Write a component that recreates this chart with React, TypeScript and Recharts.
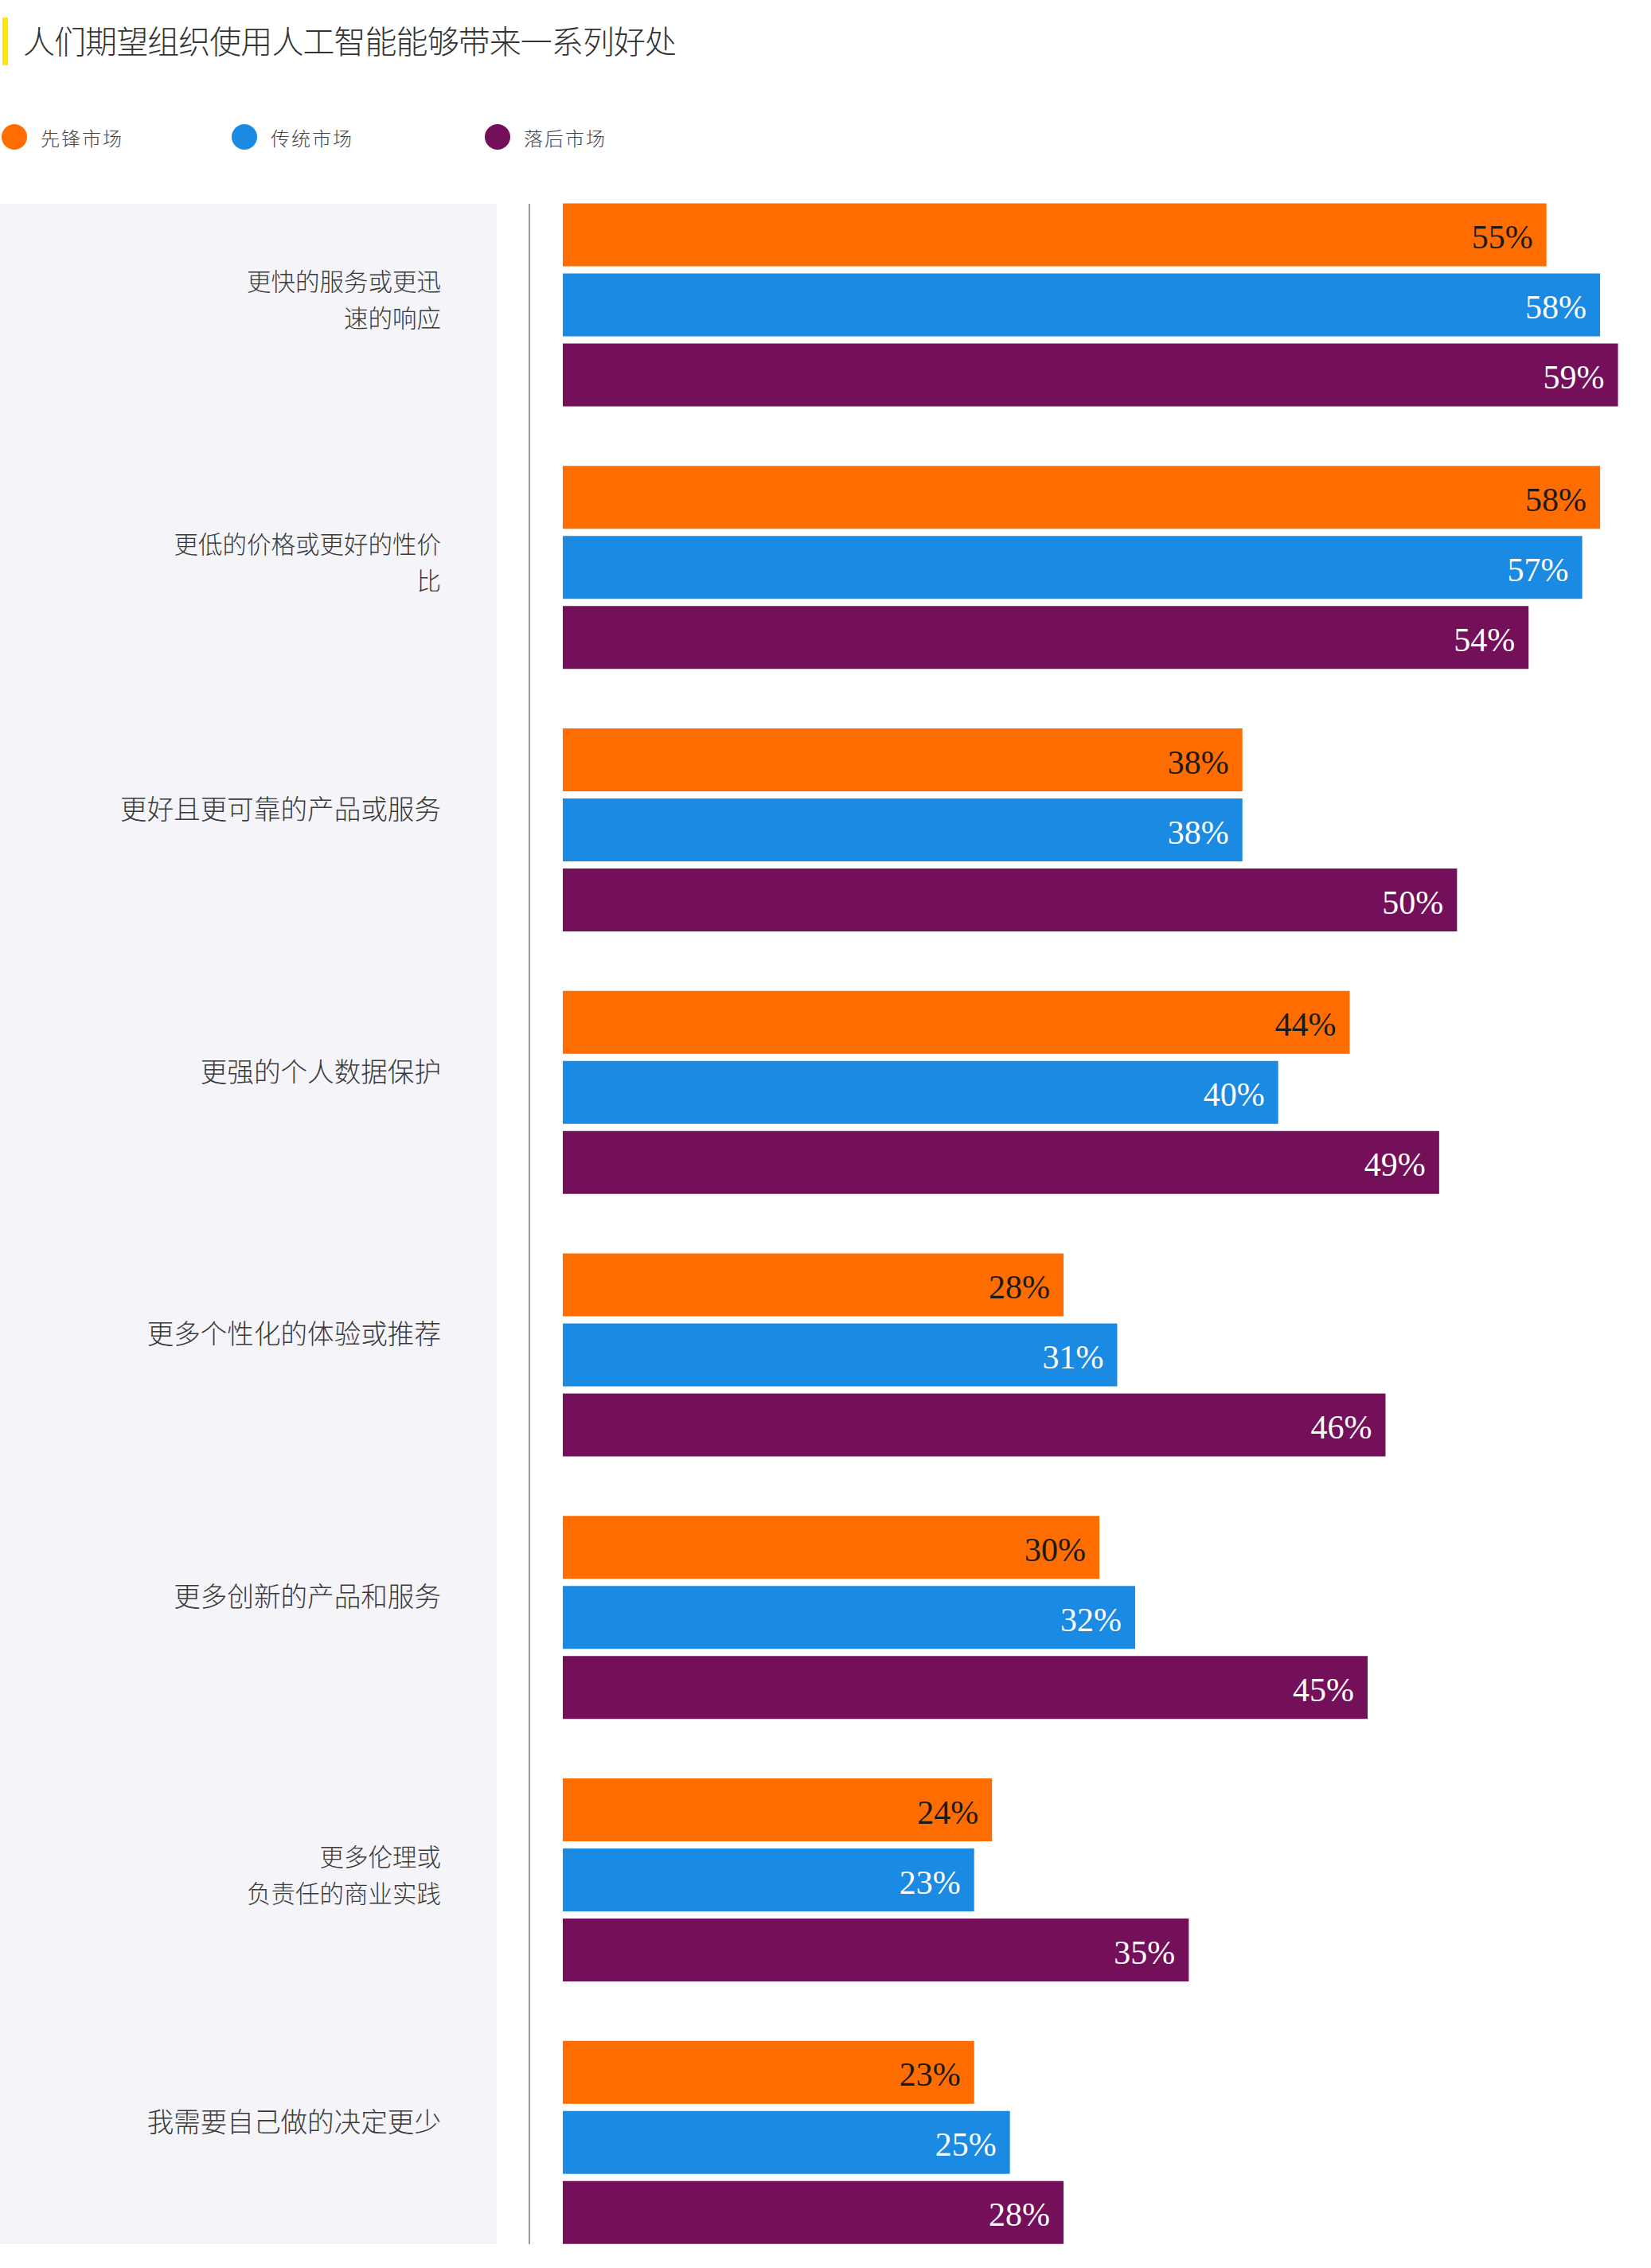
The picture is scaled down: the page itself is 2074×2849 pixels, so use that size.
import React from "react";
import { BarChart, Bar, XAxis, YAxis, LabelList } from "recharts";

// Benefit categories (line breaks mark where a label wraps)
const categories: string[] = [
  "更快的服务或更迅\n速的响应",
  "更低的价格或更好的性价\n比",
  "更好且更可靠的产品或服务",
  "更强的个人数据保护",
  "更多个性化的体验或推荐",
  "更多创新的产品和服务",
  "更多伦理或\n负责任的商业实践",
  "我需要自己做的决定更少",
];

// Share of respondents (%) per market group
const pioneerValues: number[] = [55, 58, 38, 44, 28, 30, 24, 23];
const traditionalValues: number[] = [58, 57, 38, 40, 31, 32, 23, 25];
const laggardValues: number[] = [59, 54, 50, 49, 46, 45, 35, 28];

const seriesNames: string[] = ["先锋市场", "传统市场", "落后市场"];
const titleText = "人们期望组织使用人工智能能够带来一系列好处";

const COLORS = ["#FF6D00", "#1B8AE3", "#740F5A"];
const LABEL_FILL = ["#1a1a1a", "#ffffff", "#ffffff"];
const CJK = "'Noto Sans CJK SC', 'Noto Sans', sans-serif";
const NUM_FONT = "'Liberation Serif', 'DejaVu Serif', serif";

const data = categories.map((name, i) => ({
  name,
  pioneer: pioneerValues[i],
  traditional: traditionalValues[i],
  laggard: laggardValues[i],
}));

const W = 2074;
const H = 2849;
const CHART_H = 2870;
const LABEL_RIGHT = 554;

function CategoryTick(props: any) {
  const { y, payload } = props;
  const lines: string[] = String(payload.value).split("\n");
  const multi = lines.length > 1;
  const size = multi ? 30.5 : 33.6;
  const first = multi ? y - 18 : y - 14;
  return (
    <text
      textAnchor="end"
      fill="#3a3a3a"
      fontFamily={CJK}
      fontWeight={300}
      fontSize={size}
    >
      {lines.map((ln, i) => (
        <tspan key={i} x={LABEL_RIGHT} y={first + i * 46}>
          {ln}
        </tspan>
      ))}
    </text>
  );
}

function makeValueLabel(fill: string) {
  return (props: any) => {
    const { x, y, width, height, value } = props;
    return (
      <text
        x={x + width - 17}
        y={y + height / 2 + 17}
        textAnchor="end"
        fill={fill}
        fontFamily={NUM_FONT}
        fontSize={42}
      >
        {`${value}%`}
      </text>
    );
  };
}

function Header() {
  const legendX = [18, 307, 625];
  return (
    <svg
      width={W}
      height={210}
      style={{ position: "absolute", left: 0, top: 0 }}
    >
      <rect x={3} y={22} width={7} height={60} fill="#FFE600" />
      <text
        x={29}
        y={67}
        fill="#333333"
        fontFamily={CJK}
        fontWeight={300}
        fontSize={40}
        textLength={821}
        lengthAdjust="spacing"
      >
        {titleText}
      </text>
      {seriesNames.map((s, i) => (
        <g key={s}>
          <circle cx={legendX[i]} cy={172} r={16} fill={COLORS[i]} />
          <text
            x={legendX[i] + 33}
            y={183}
            fill="#444444"
            fontFamily={CJK}
            fontWeight={300}
            fontSize={24}
            letterSpacing={2}
          >
            {s}
          </text>
        </g>
      ))}
    </svg>
  );
}

export default function App() {
  return (
    <div
      style={{
        position: "absolute",
        left: 0,
        top: 0,
        width: W,
        height: H,
        overflow: "hidden",
        background: "#ffffff",
      }}
    >
      <Header />
      {/* label panel and axis rule behind the plot */}
      <div
        style={{
          position: "absolute",
          left: 0,
          top: 256,
          width: 624,
          height: 2563,
          background: "#F5F5F9",
        }}
      />
      <div
        style={{
          position: "absolute",
          left: 664,
          top: 256,
          width: 2,
          height: 2563,
          background: "#9a9a9a",
        }}
      />
      <div style={{ position: "absolute", left: 0, top: 0 }}>
        <BarChart
          layout="vertical"
          width={W}
          height={CHART_H}
          data={data}
          margin={{ top: 218.5, right: 19, bottom: 13.5, left: 0 }}
          barSize={79}
          barGap={9}
        >
          <XAxis type="number" domain={[0, 60]} hide />
          <YAxis
            type="category"
            dataKey="name"
            width={707}
            axisLine={false}
            tickLine={false}
            interval={0}
            tick={<CategoryTick />}
          />
          <Bar dataKey="pioneer" name={seriesNames[0]} fill={COLORS[0]} isAnimationActive={false}>
            <LabelList dataKey="pioneer" content={makeValueLabel(LABEL_FILL[0])} />
          </Bar>
          <Bar dataKey="traditional" name={seriesNames[1]} fill={COLORS[1]} isAnimationActive={false}>
            <LabelList dataKey="traditional" content={makeValueLabel(LABEL_FILL[1])} />
          </Bar>
          <Bar dataKey="laggard" name={seriesNames[2]} fill={COLORS[2]} isAnimationActive={false}>
            <LabelList dataKey="laggard" content={makeValueLabel(LABEL_FILL[2])} />
          </Bar>
        </BarChart>
      </div>
    </div>
  );
}
